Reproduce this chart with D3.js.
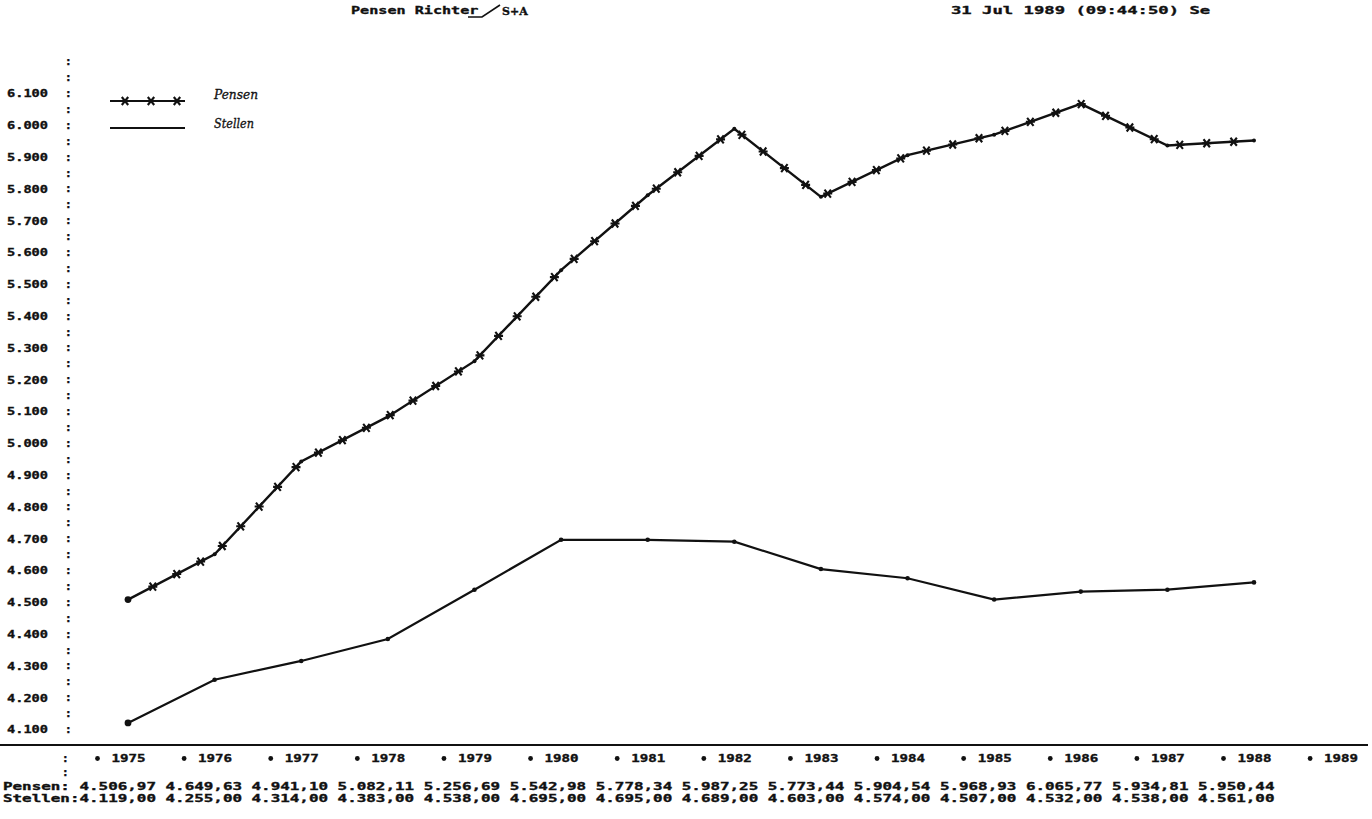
<!DOCTYPE html>
<html>
<head>
<meta charset="utf-8">
<script src="https://cdn.jsdelivr.net/npm/d3@7"></script>
<style>
  body { margin: 0; background: #fff; }
  svg text { font-family: "DejaVu Sans Mono", "Liberation Mono", monospace; font-weight: bold; fill: #111; stroke: #111; stroke-width: 0.35px; }
</style>
</head>
<body>
<div id="chart"></div>
<script>
// data
const years = [1975, 1976, 1977, 1978, 1979, 1980, 1981, 1982, 1983, 1984, 1985, 1986, 1987, 1988];
const axisYears = [1975, 1976, 1977, 1978, 1979, 1980, 1981, 1982, 1983, 1984, 1985, 1986, 1987, 1988, 1989];
const pensen = [4506.97, 4649.63, 4941.10, 5082.11, 5256.69, 5542.98, 5778.34, 5987.25, 5773.44, 5904.54, 5968.93, 6065.77, 5934.81, 5950.44];
const stellen = [4119, 4255, 4314, 4383, 4538, 4695, 4695, 4689, 4603, 4574, 4507, 4532, 4538, 4561];
const yTicks = [4100, 4200, 4300, 4400, 4500, 4600, 4700, 4800, 4900, 5000, 5100, 5200, 5300, 5400, 5500, 5600, 5700, 5800, 5900, 6000, 6100];
const title = 'Pensen Richter';
const stamp = '31 Jul 1989  (09:44:50)  Se';

const W = 1372, H = 819;
const de = d3.formatLocale({decimal: ',', thousands: '.', grouping: [3], currency: ['', '']});
const fmtInt = de.format(',.0f');
const fmt2 = de.format(',.2f');

const x = d3.scaleLinear().domain([1975, 1988]).range([128, 1254]);
const y = d3.scaleLinear().domain([4100, 6100]).range([729, 93]);

const svg = d3.select('#chart').append('svg')
    .attr('width', W)
    .attr('height', H);

svg.append('rect').attr('width', W).attr('height', H).attr('fill', '#fff');

// header
svg.append('text')
    .attr('x', 351).attr('y', 14)
    .attr('font-size', 11)
    .attr('textLength', title.length * 9.1)
    .attr('lengthAdjust', 'spacingAndGlyphs')
    .text(title);

// handwritten slash + note
svg.append('path')
    .attr('d', 'M468,17 L482,17 L500,5')
    .attr('fill', 'none').attr('stroke', '#111').attr('stroke-width', 1.6);
svg.append('text')
    .attr('x', 502).attr('y', 15)
    .attr('font-size', 11)
    .style('font-family', '"DejaVu Serif", serif')
    .text('S+A');

svg.append('text')
    .attr('x', 951).attr('y', 14)
    .attr('font-size', 11)
    .attr('textLength', stamp.length * 9.6)
    .attr('lengthAdjust', 'spacingAndGlyphs')
    .text(stamp);

// y axis: labels and the dotted ':' column
const yAxis = svg.append('g')
    .attr('class', 'y-axis')
    .attr('transform', 'translate(52,0)')
    .call(d3.axisLeft(y).tickValues(yTicks).tickSize(0).tickFormat(fmtInt));
yAxis.select('.domain').remove();
yAxis.selectAll('text')
    .attr('font-size', 11)
    .attr('x', -45).attr('dx', 0).attr('dy', '0.35em')
    .attr('text-anchor', 'start')
    .attr('textLength', 41)
    .attr('lengthAdjust', 'spacingAndGlyphs')
    .attr('fill', '#111')
    .style('font-family', '"DejaVu Sans Mono", monospace')
    .style('font-weight', 'bold');

const colonVals = d3.range(4100, 6201, 50);
svg.append('g').selectAll('text')
    .data(colonVals)
    .join('text')
    .attr('x', 65)
    .attr('y', d => y(d) + 4)
    .attr('font-size', 11)
    .text(':');

// x axis line
svg.append('line')
    .attr('x1', 0).attr('x2', W - 4)
    .attr('y1', 745).attr('y2', 745)
    .attr('stroke', '#111').attr('stroke-width', 2.2);

const xAxis = svg.append('g')
    .attr('class', 'x-axis')
    .attr('transform', 'translate(0,752)')
    .call(d3.axisBottom(x).tickValues(axisYears).tickSize(0).tickFormat(d3.format('d')));
xAxis.select('.domain').remove();
xAxis.selectAll('text')
    .attr('y', 10).attr('dy', 0)
    .attr('font-size', 10)
    .attr('textLength', 34)
    .attr('lengthAdjust', 'spacingAndGlyphs')
    .attr('fill', '#111')
    .style('font-family', '"DejaVu Sans Mono", monospace')
    .style('font-weight', 'bold');
xAxis.selectAll('.tick').append('circle')
    .attr('cx', -31).attr('cy', 6.5).attr('r', 2.4)
    .attr('fill', '#111');

svg.append('text').attr('x', 62).attr('y', 762).attr('font-size', 11).text(':');
svg.append('text').attr('x', 62).attr('y', 776).attr('font-size', 11).text(':');

// data rows under the chart
const rowP = 'Pensen: ' + pensen.map(fmt2).join(' ');
const rowS = 'Stellen:' + stellen.map(fmt2).join(' ');
[[rowP, 790], [rowS, 802]].forEach(([s, yy]) => {
    svg.append('text')
        .attr('x', 3).attr('y', yy)
        .attr('font-size', 10.5)
        .attr('textLength', s.length * 9.56)
        .attr('lengthAdjust', 'spacingAndGlyphs')
        .text(s);
});

// lines
const line = d3.line().x(d => x(d[0])).y(d => y(d[1]));

function star(g, px, py){
    g.append('path')
        .attr('d', `M${px-4.5},${py} L${px+4.5},${py} M${px-3.2},${py-4} L${px+3.2},${py+4} M${px-3.2},${py+4} L${px+3.2},${py-4}`)
        .attr('stroke', '#111').attr('stroke-width', 2.1).attr('fill', 'none');
}

const plot = svg.append('g').attr('class', 'plot');

const stData = years.map((yr, i) => [yr, stellen[i]]);
plot.append('path')
    .datum(stData)
    .attr('d', line)
    .attr('fill', 'none').attr('stroke', '#111').attr('stroke-width', 2.2);

plot.selectAll('.st-dot')
    .data(stData)
    .join('circle')
    .attr('class', 'st-dot')
    .attr('cx', d => x(d[0])).attr('cy', d => y(d[1]))
    .attr('r', (d, i) => i === 0 ? 3.4 : 2.3)
    .attr('fill', '#111');

const pData = years.map((yr, i) => [yr, pensen[i]]);
const pPath = plot.append('path')
    .datum(pData)
    .attr('d', line)
    .attr('fill', 'none').attr('stroke', '#111').attr('stroke-width', 2.4);

plot.selectAll('.p-dot')
    .data(pData)
    .join('circle')
    .attr('class', 'p-dot')
    .attr('cx', d => x(d[0])).attr('cy', d => y(d[1]))
    .attr('r', (d, i) => i === 0 ? 3.4 : 2)
    .attr('fill', '#111');

// plotter symbols placed along the Pensen curve
const pl = pPath.node().getTotalLength();
for (let s = 28; s < pl - 10; s += 27){
    const p = pPath.node().getPointAtLength(s);
    star(plot, p.x, p.y);
}

// legend
const leg = svg.append('g').attr('class', 'legend');
leg.append('line').attr('x1', 110).attr('x2', 185).attr('y1', 101).attr('y2', 101)
    .attr('stroke', '#111').attr('stroke-width', 2);
[125, 151, 177].forEach(px => star(leg, px, 101));
leg.append('line').attr('x1', 110).attr('x2', 185).attr('y1', 128).attr('y2', 128)
    .attr('stroke', '#111').attr('stroke-width', 1.8);
leg.append('text')
    .attr('x', 214).attr('y', 99)
    .attr('font-size', 13)
    .attr('textLength', 44).attr('lengthAdjust', 'spacingAndGlyphs')
    .style('font-family', '"DejaVu Serif", serif')
    .style('font-style', 'italic').style('font-weight', 'normal')
    .text('Pensen');
leg.append('text')
    .attr('x', 214).attr('y', 128)
    .attr('font-size', 13)
    .attr('textLength', 40).attr('lengthAdjust', 'spacingAndGlyphs')
    .style('font-family', '"DejaVu Serif", serif')
    .style('font-style', 'italic').style('font-weight', 'normal')
    .text('Stellen');
</script>
</body>
</html>
